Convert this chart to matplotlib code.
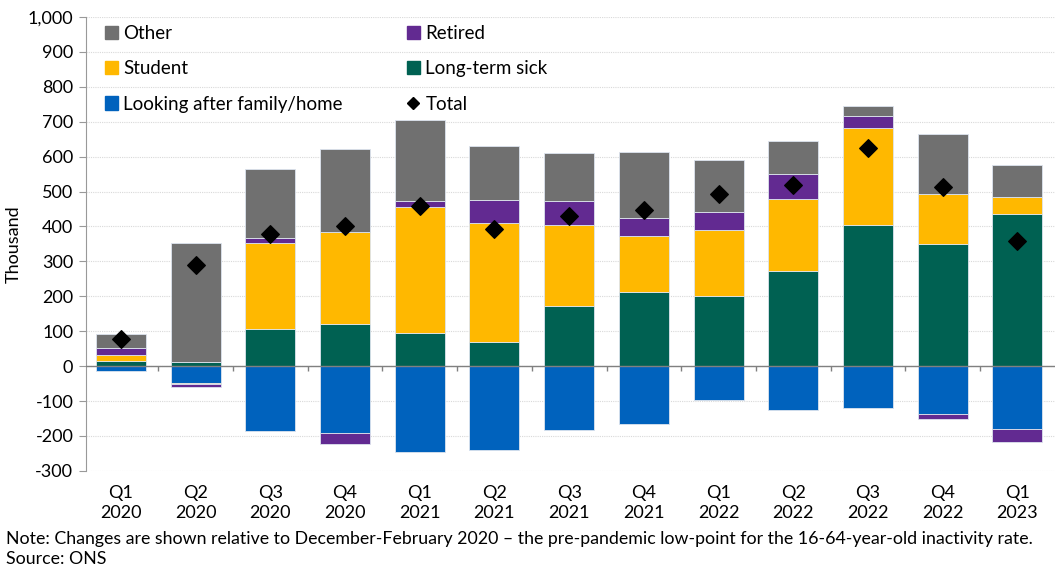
import matplotlib
matplotlib.use("Agg")
import matplotlib.pyplot as plt
import numpy as np
from matplotlib.patches import Patch
from matplotlib.lines import Line2D
from matplotlib.ticker import FuncFormatter

plt.rcParams['font.family'] = ['Lato', 'DejaVu Sans']

quarters = ["Q1\n2020", "Q2\n2020", "Q3\n2020", "Q4\n2020", "Q1\n2021", "Q2\n2021",
            "Q3\n2021", "Q4\n2021", "Q1\n2022", "Q2\n2022", "Q3\n2022", "Q4\n2022",
            "Q1\n2023"]

# thousand, change relative to Dec-Feb 2020
family = [-13, -47, -186, -191, -246, -239, -182, -167, -98, -126, -119, -136, -179]
long_term_sick = [15, 11, 107, 120, 94, 70, 173, 213, 202, 272, 404, 350, 435]
student = [16, -3, 246, 265, 363, 340, 232, 160, 187, 206, 277, 143, 50]
retired = [22, -11, 14, -31, 16, 66, 67, 50, 52, 73, 34, -16, -38]
other = [38, 343, 197, 238, 232, 155, 138, 191, 150, 94, 30, 173, 91]
total = [77, 289, 379, 401, 459, 393, 430, 446, 493, 518, 626, 514, 358]

series = [
    ("Looking after family/home", family, "#0062BD"),
    ("Long-term sick", long_term_sick, "#006152"),
    ("Student", student, "#FFB800"),
    ("Retired", retired, "#622A91"),
    ("Other", other, "#707070"),
]

fig = plt.figure(figsize=(10.59, 5.66), dpi=100)
ax = fig.add_axes([0.081, 0.168, 0.915, 0.802])

x = np.arange(len(quarters))
pos_base = np.zeros(len(x))
neg_base = np.zeros(len(x))
for name, vals, col in series:
    v = np.array(vals, dtype=float)
    bottom = np.where(v >= 0, pos_base, neg_base)
    ax.bar(x, v, bottom=bottom, width=0.67, color=col, edgecolor="#dde4ee",
           linewidth=0.6, zorder=3)
    pos_base += np.where(v >= 0, v, 0)
    neg_base += np.where(v < 0, v, 0)

ax.scatter(x, total, marker="D", s=80, color="black", zorder=5)

ax.set_ylim(-300, 1000)
ax.set_yticks(np.arange(-300, 1001, 100))
ax.yaxis.set_major_formatter(FuncFormatter(lambda v, p: f"{int(v):,}"))
ax.set_xlim(-0.47, len(x) - 0.5)
ax.set_xticks(x)
ax.set_xticklabels(quarters, linespacing=1.35)
ax.tick_params(axis="x", length=0, pad=10, labelsize=13)
ax.tick_params(axis="y", length=5, color="#999999", labelsize=13, pad=4)
ax.grid(axis="y", color="#d9d9d9", linestyle=(0, (1, 1)), linewidth=0.8, zorder=0)

for s in ["top", "right", "bottom"]:
    ax.spines[s].set_visible(False)
ax.spines["left"].set_color("#999999")

# zero axis with small category ticks
ax.axhline(0, color="#808080", linewidth=1.0, zorder=4)
ax.vlines(x[:-1] + 0.5, -14, 0, color="#808080", linewidth=1.0, zorder=4)

ax.set_ylabel("Thousand", fontsize=13, labelpad=4)

handles = [
    Patch(color="#707070", label="Other"),
    Patch(color="#FFB800", label="Student"),
    Patch(color="#0062BD", label="Looking after family/home"),
    Patch(color="#622A91", label="Retired"),
    Patch(color="#006152", label="Long-term sick"),
    Line2D([], [], marker="D", color="black", linestyle="none", markersize=6, label="Total"),
]
ax.legend(handles=handles, ncol=2, loc="upper left", bbox_to_anchor=(0.002, 1.02),
          frameon=False, fontsize=13.5, handlelength=0.7, handleheight=0.7,
          handletextpad=0.3, columnspacing=3.4, labelspacing=0.98)

fig.text(0.006, 0.038, "Note: Changes are shown relative to December-February 2020 \u2013 the pre-pandemic low-point for the 16-64-year-old inactivity rate.",
         fontsize=12.8, ha="left", va="baseline")
fig.text(0.006, 0.003, "Source: ONS", fontsize=12.8, ha="left", va="baseline")

fig.savefig("out.png", dpi=100)
